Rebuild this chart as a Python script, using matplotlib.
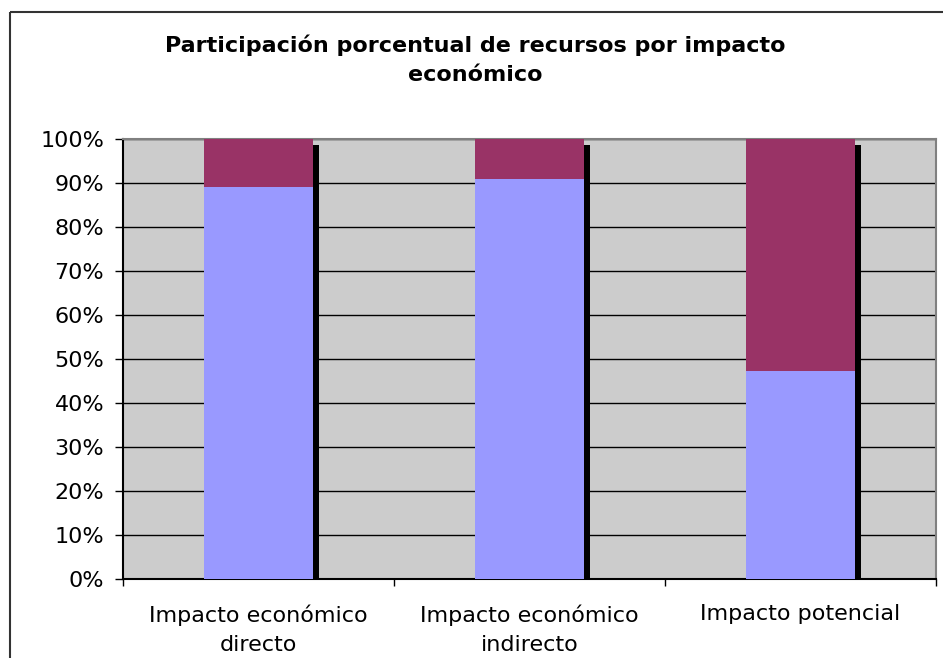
import matplotlib
matplotlib.use("Agg")
import matplotlib.pyplot as plt
import matplotlib.transforms as mtrans
from matplotlib.patches import Rectangle
from matplotlib.ticker import FixedLocator, PercentFormatter

categories = ["Impacto económico\ndirecto", "Impacto económico\nindirecto", "Impacto potencial"]
serie_1 = [89.0, 91.0, 47.3]
serie_2 = [11.0, 9.0, 52.7]
y_ticks = [0, 10, 20, 30, 40, 50, 60, 70, 80, 90, 100]
title = "Participación porcentual de recursos por impacto\neconómico"

W, H, DPI = 943, 658, 100
fig = plt.figure(figsize=(W / DPI, H / DPI), dpi=DPI)
fig.patch.set_facecolor("white")

# outer chart border
fig.add_artist(Rectangle((10 / W, 1 - 12 / H), 2, -2, transform=fig.transFigure,
                         fill=False, edgecolor="#333333", linewidth=1.5))

ax = fig.add_axes([123 / W, (H - 579) / H, 813 / W, 440 / H])
ax.set_facecolor("#CCCCCC")

x = list(range(len(categories)))
totals = [a + b for a, b in zip(serie_1, serie_2)]
width = 0.40

shadow_tr = ax.transData + mtrans.ScaledTranslation(6 / DPI, -6 / DPI, fig.dpi_scale_trans)
ax.bar(x, totals, width=width, color="black", linewidth=0, transform=shadow_tr, zorder=2)
ax.bar(x, serie_1, width=width, color="#9999FF", linewidth=0, zorder=3)
ax.bar(x, serie_2, bottom=serie_1, width=width, color="#993366", linewidth=0, zorder=3)

ax.set_xlim(-0.5, len(categories) - 0.5)
ax.set_ylim(0, 100)
ax.set_yticks(y_ticks)
ax.yaxis.set_major_formatter(PercentFormatter(decimals=0))
ax.yaxis.grid(True, color="black", linewidth=1)
ax.set_axisbelow(True)

ax.xaxis.set_major_locator(FixedLocator([i - 0.5 for i in range(len(categories) + 1)]))
ax.xaxis.set_major_formatter(plt.NullFormatter())
ax.xaxis.set_minor_locator(FixedLocator(x))
ax.set_xticklabels(categories, minor=True)
ax.tick_params(axis="x", which="major", direction="out", length=5, width=1, color="black")
ax.tick_params(axis="x", which="minor", length=0, pad=18, labelsize=16)
ax.tick_params(axis="y", direction="out", length=5.5, width=1, color="black", labelsize=16, pad=8)
for lbl in ax.get_xticklabels(minor=True):
    lbl.set_linespacing(1.6)

ax.spines["left"].set_color("black")
ax.spines["bottom"].set_color("black")
ax.spines["top"].set_color("#808080")
ax.spines["right"].set_color("#808080")
for s in ax.spines.values():
    s.set_linewidth(1.5)

fig.text(475.5 / W, 1 - 34 / H, title, ha="center", va="top", fontsize=16,
         fontweight="bold", linespacing=1.6)

fig.savefig("out.png", dpi=DPI)
